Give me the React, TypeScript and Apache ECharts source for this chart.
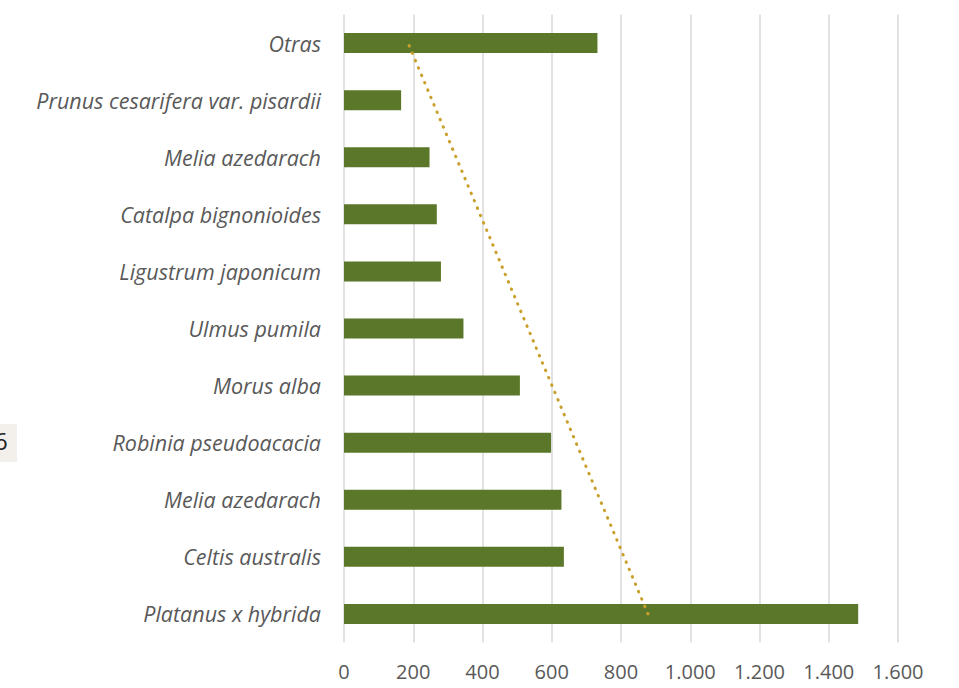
import React, { useEffect, useRef } from "react";
import * as echarts from "echarts";

const categories = [
  "Platanus x hybrida",
  "Celtis australis",
  "Melia azedarach",
  "Robinia pseudoacacia",
  "Morus alba",
  "Ulmus pumila",
  "Ligustrum japonicum",
  "Catalpa bignonioides",
  "Melia azedarach",
  "Prunus cesarifera var. pisardii",
  "Otras",
];
const values = [1485, 635, 628, 598, 508, 345, 280, 268, 247, 165, 732];
// linear trend endpoints
const trendStart = 878;
const trendEnd = 185;
const xTicks = { min: 0, max: 1600, interval: 200 };

export default function App() {
  const ref = useRef<HTMLDivElement>(null);
  useEffect(() => {
    if (!ref.current) return;
    const chart = echarts.init(ref.current, null, { renderer: "svg" });
    const trend = categories.map((_, i) =>
      i === 0 ? trendStart : i === categories.length - 1 ? trendEnd : null
    );
    chart.setOption({
      animation: false,
      backgroundColor: "#ffffff",
      grid: { left: 344, right: 61, top: 14.5, bottom: 45.5, containLabel: false },
      xAxis: {
        type: "value",
        min: xTicks.min,
        max: xTicks.max,
        interval: xTicks.interval,
        axisLine: { show: false },
        axisTick: { show: false },
        splitLine: { show: true, lineStyle: { color: "#d9d9d9", width: 1.5 } },
        axisLabel: {
          color: "#595959",
          fontSize: 20,
          fontFamily: "Open Sans",
          margin: 19,
          formatter: (v: number) => v.toString().replace(/\B(?=(\d{3})+(?!\d))/g, "."),
        },
      },
      yAxis: {
        type: "category",
        data: categories,
        axisLine: { show: false },
        axisTick: { show: false },
        axisLabel: {
          color: "#595959",
          fontSize: 21.5,
          fontStyle: "italic",
          fontFamily: "Open Sans",
          margin: 23,
        },
      },
      series: [
        {
          type: "bar",
          data: values,
          barWidth: 20,
          itemStyle: { color: "#5b7729" },
        },
        {
          type: "line",
          data: trend,
          connectNulls: true,
          symbol: "none",
          lineStyle: { color: "#c9a02e", width: 3, type: [0.5, 7.5], cap: "round" },
          z: 5,
        },
      ],
      graphic: [
        { type: "rect", left: 0, top: 424, shape: { width: 17, height: 38 }, style: { fill: "#f3efea" } },
        {
          type: "text",
          left: -6,
          top: 428,
          style: { text: "6", fontSize: 24, fill: "#222222", fontFamily: "Open Sans" },
        },
      ],
    });
    return () => chart.dispose();
  }, []);
  return (
    <div
      ref={ref}
      style={{ position: "fixed", left: 0, top: 0, width: 959, height: 688 }}
    />
  );
}
